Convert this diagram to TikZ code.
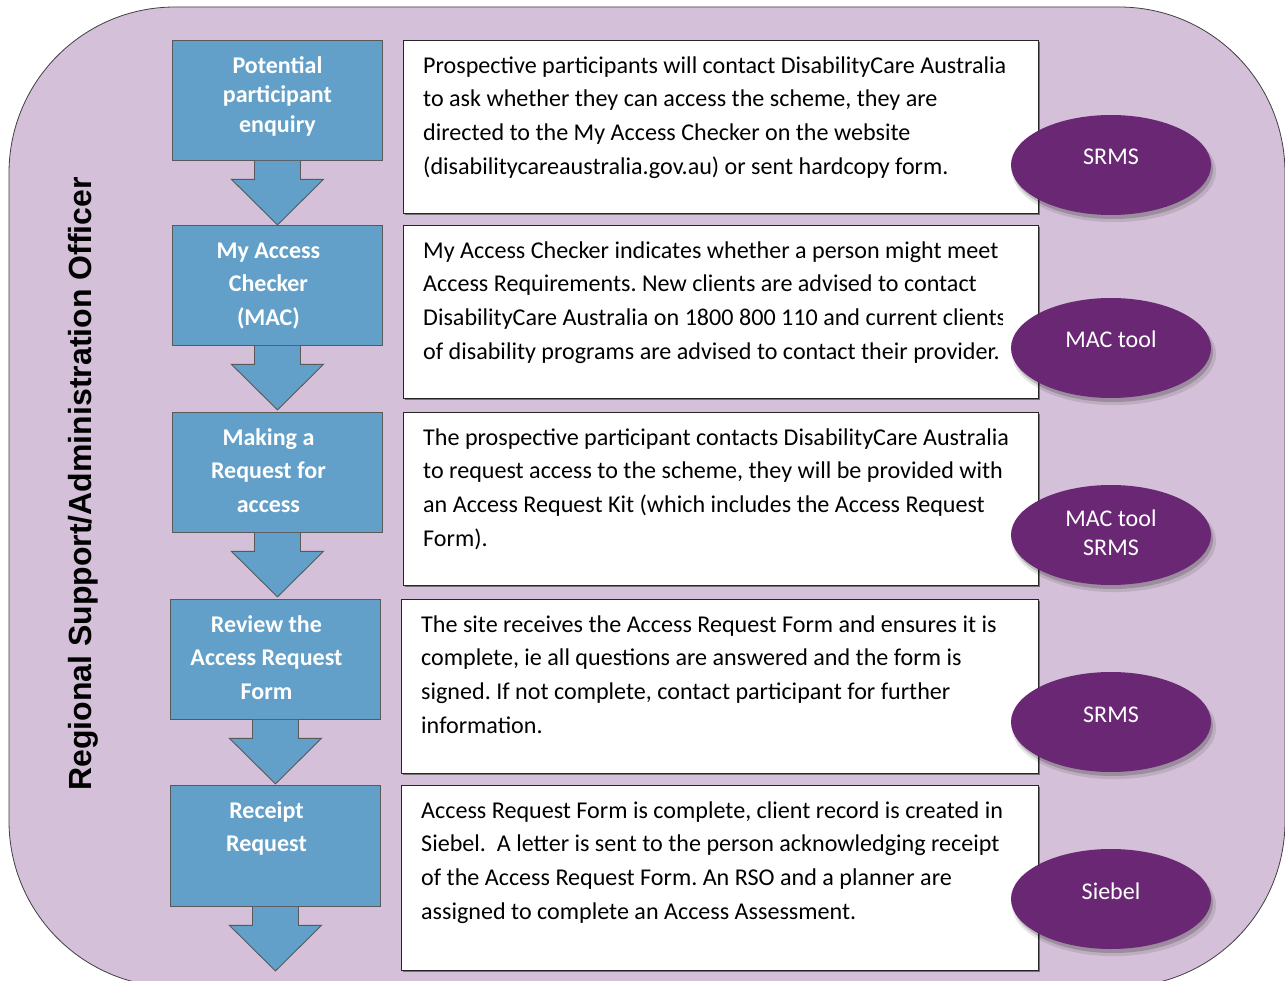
\documentclass[tikz,border=0pt]{standalone}
\usepackage{fontspec}
\setmainfont{Carlito}
\newfontfamily\arialfont{Liberation Sans}
\usetikzlibrary{shapes.geometric,calc,shadows}
\frenchspacing

\definecolor{bgmauve}{HTML}{D4C0D8}
\definecolor{stepblue}{HTML}{63A0C9}
\definecolor{toolpurple}{HTML}{6A2874}
\newcommand{\firststrut}{\rule{0pt}{24pt}}

\begin{document}
\begin{tikzpicture}[x=1pt,y=-1pt,
  bluebox/.style={draw=black!65, line width=0.9pt, fill=stepblue, minimum width=210pt,
    minimum height=120pt, inner sep=0pt, anchor=north west},
  arrowfill/.style={fill=stepblue},
  arrowline/.style={draw=black!65, line width=0.9pt, line join=miter},
  steplabel/.style={anchor=north, align=center, inner sep=0pt, text=white,
    font=\bfseries\fontsize{24}{33.5}\selectfont},
  textbox/.style={draw=black!85, line width=1.1pt, fill=white, inner sep=0pt, anchor=north west,
    general shadow={shadow xshift=1.2pt, shadow yshift=-1.2pt, fill=black!55}},
  bodytext/.style={anchor=north west, align=left, inner sep=0pt,
    font=\fontsize{24.1}{33.7}\selectfont},
  toolellipse/.style={ellipse, fill=toolpurple, minimum width=200pt, minimum height=100pt, inner sep=0pt,
    general shadow={shadow xshift=3pt, shadow yshift=-6pt, fill=black, opacity=0.10, shadow scale=1.02},
    general shadow={shadow xshift=2pt, shadow yshift=-4pt, fill=black, opacity=0.18}},
  tooltext/.style={text=white, inner sep=0pt, align=center, font=\fontsize{24}{29}\selectfont}
]
\useasboundingbox (0,0) rectangle (1285,981);

% background
\draw[fill=bgmauve, draw=black!75, line width=0.8pt, rounded corners=166pt] (9,7) rectangle (1285,987);

% role label
\node[rotate=90, anchor=base, inner sep=0pt, font=\arialfont\bfseries\fontsize{32}{38}\selectfont] (role)
  at (91,484) {Regional Support/Administration Officer};

% step boxes
\node[bluebox] (s1) at (172,40) {};
\node[bluebox] (s2) at (172,225) {};
\node[bluebox] (s3) at (172,412) {};
\node[bluebox] (s4) at (170,599) {};
\node[bluebox, minimum height=121pt] (s5) at (170,785) {};

% block arrows
\foreach \i in {1,...,5}{
  \fill[arrowfill] ($(s\i.south)+(-23,0)$) -- ($(s\i.south)+(-23,18.5)$) -- ($(s\i.south)+(-46,18.5)$)
     -- ($(s\i.south)+(0,64)$) -- ($(s\i.south)+(46,18.5)$) -- ($(s\i.south)+(23,18.5)$)
     -- ($(s\i.south)+(23,0)$) -- cycle;
  \draw[arrowline] ($(s\i.south)+(-23,0)$) -- ($(s\i.south)+(-23,18.5)$) -- ($(s\i.south)+(-46,18.5)$)
     -- ($(s\i.south)+(0,64)$) -- ($(s\i.south)+(46,18.5)$) -- ($(s\i.south)+(23,18.5)$)
     -- ($(s\i.south)+(23,0)$);
}

% step labels
\node[steplabel, font=\bfseries\fontsize{24}{29.5}\selectfont] (l1) at ($(s1.north)+(0,9)$)
  {\firststrut Potential\\participant\\enquiry};
\node[steplabel] (l2) at ($(s2.north)+(-9,9)$) {\firststrut My Access\\Checker\\(MAC)};
\node[steplabel] (l3) at ($(s3.north)+(-9,9)$) {\firststrut Making a\\Request for\\access};
\node[steplabel] (l4) at ($(s4.north)+(-9,9)$) {\firststrut Review the\\Access Request\\Form};
\node[steplabel] (l5) at ($(s5.north)+(-9,9)$) {\firststrut Receipt\\Request};

% description boxes
\node[textbox, minimum width=635pt, minimum height=173pt] (t1) at (403,40) {};
\node[textbox, minimum width=635pt, minimum height=173pt] (t2) at (403,225) {};
\node[textbox, minimum width=635pt, minimum height=173pt] (t3) at (403,412) {};
\node[textbox, minimum width=637pt, minimum height=174pt] (t4) at (401,599) {};
\node[textbox, minimum width=637pt, minimum height=185pt] (t5) at (401,785) {};

\node[bodytext] (d1) at ($(t1.north west)+(20,9)$)
  {\firststrut Prospective participants will contact DisabilityCare Australia\\
   to ask whether they can access the scheme, they are\\
   directed to the My Access Checker on the website\\
   (disabilitycareaustralia.gov.au) or sent hardcopy form.};
\begin{scope}
\clip (403,225) rectangle (1002,398);
\node[bodytext] (d2) at ($(t2.north west)+(20,9)$)
  {\firststrut My Access Checker indicates whether a person might meet\\
   Access Requirements. New clients are advised to contact\\
   DisabilityCare Australia on 1800 800 110 and current clients\\
   of disability programs are advised to contact their provider.};
\end{scope}
\node[bodytext] (d3) at ($(t3.north west)+(20,9)$)
  {\firststrut The prospective participant contacts DisabilityCare Australia\\
   to request access to the scheme, they will be provided with\\
   an Access Request Kit (which includes the Access Request\\
   Form).};
\node[bodytext] (d4) at ($(t4.north west)+(20,9)$)
  {\firststrut The site receives the Access Request Form and ensures it is\\
   complete, ie all questions are answered and the form is\\
   signed. If not complete, contact participant for further\\
   information.};
\node[bodytext] (d5) at ($(t5.north west)+(20,9)$)
  {\firststrut Access Request Form is complete, client record is created in\\
   Siebel.\ \ A letter is sent to the person acknowledging receipt\\
   of the Access Request Form. An RSO and a planner are\\
   assigned to complete an Access Assessment.};

% tool ellipses
\node[toolellipse] (e1) at (1111,165) {};
\node[toolellipse] (e2) at (1111,348) {};
\node[toolellipse] (e3) at (1111,535) {};
\node[toolellipse] (e4) at (1111,722) {};
\node[toolellipse] (e5) at (1111,899) {};

\node[tooltext, anchor=base] (x1) at (e1.center) {SRMS};
\node[tooltext, anchor=base] (x2) at (e2.center) {MAC tool};
\node[tooltext, anchor=north] (x3) at ($(e3.center)+(0,-33)$) {\firststrut MAC tool\\SRMS};
\node[tooltext, anchor=base] (x4) at (e4.center) {SRMS};
\node[tooltext, anchor=base] (x5) at (e5.center) {Siebel};
\end{tikzpicture}
\end{document}
